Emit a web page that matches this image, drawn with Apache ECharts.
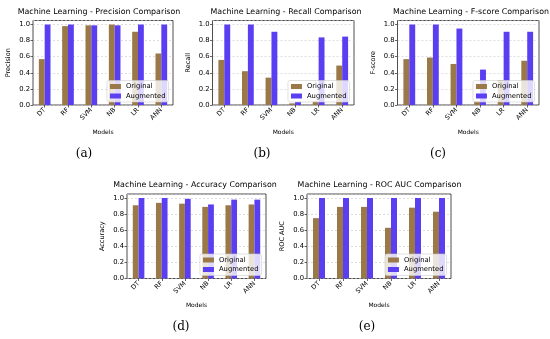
<!DOCTYPE html>
<html><head><meta charset="utf-8">
<script src="https://cdn.jsdelivr.net/npm/echarts@6/dist/echarts.min.js"></script>
<style>html,body{margin:0;padding:0;background:#fff}#c{width:550px;height:339px}</style>
</head><body><div id="c"></div>
<script>
const models = ['DT','RF','SVM','NB','LR','ANN'];
const seriesNames = ['Original','Augmented'];
const yTicks = ['0.0','0.2','0.4','0.6','0.8','1.0'];

const precisionOriginal = [0.57,0.98,0.99,1.00,0.91,0.64];
const precisionAugmented = [1.00,1.00,0.99,0.99,1.00,1.00];
const recallOriginal = [0.56,0.42,0.34,0.02,0.05,0.49];
const recallAugmented = [1.00,1.00,0.91,0.04,0.84,0.85];
const fscoreOriginal = [0.57,0.59,0.51,0.05,0.31,0.55];
const fscoreAugmented = [1.00,1.00,0.95,0.44,0.91,0.91];
const accuracyOriginal = [0.91,0.94,0.93,0.89,0.91,0.92];
const accuracyAugmented = [1.00,1.00,0.99,0.92,0.98,0.98];
const rocOriginal = [0.75,0.89,0.89,0.63,0.88,0.83];
const rocAugmented = [1.00,1.00,1.00,1.00,1.00,1.00];

const panelTitles = ['Machine Learning - Precision Comparison','Machine Learning - Recall Comparison','Machine Learning - F-score Comparison','Machine Learning - Accuracy Comparison','Machine Learning - ROC AUC Comparison'];
const yNames = ['Precision','Recall','F-score','Accuracy','ROC AUC'];
const panelLetters = ['(a)','(b)','(c)','(d)','(e)'];
const panelData = [[precisionOriginal,precisionAugmented],[recallOriginal,recallAugmented],[fscoreOriginal,fscoreAugmented],[accuracyOriginal,accuracyAugmented],[rocOriginal,rocAugmented]];

// layout (px)
const boxes = [
  {l:33, t:20.5, w:140, h:84.5, tc:99},
  {l:212.5, t:20.5, w:141.5, h:84.5, tc:286},
  {l:397.5, t:20.5, w:141.5, h:84.5, tc:471},
  {l:127, t:194, w:139, h:84.5, tc:195},
  {l:307, t:194, w:144, h:84.5, tc:379.5}
];
const colors = ['#9a7848','#5a3ef2'];
const FONT = 'DejaVu Sans';

const grid=[],xAxis=[],yAxis=[],series=[],title=[],legend=[];
boxes.forEach((b,i)=>{
  grid.push({left:b.l,top:b.t,width:b.w,height:b.h,show:true,borderColor:'#222',borderWidth:0.8,backgroundColor:'transparent'});
  xAxis.push({type:'category',gridIndex:i,data:models,
    axisLine:{show:false},axisTick:{show:true,alignWithLabel:true,length:2.5,lineStyle:{color:'#222',width:0.7}},
    axisLabel:{rotate:45,fontSize:6.5,fontFamily:FONT,color:'#000',margin:4},
    name:'Models',nameLocation:'middle',nameGap:24,nameTextStyle:{fontSize:6,fontFamily:FONT,color:'#000'}});
  yAxis.push({type:'value',gridIndex:i,min:0,max:1.05,interval:0.2,
    axisLine:{show:false},axisTick:{show:true,length:2.5,lineStyle:{color:'#222',width:0.7}},
    axisLabel:{fontSize:6.8,fontFamily:FONT,color:'#000',margin:3,showMaxLabel:false,
      formatter:v=>{const k=Math.round(v/0.2);return Math.abs(v-k*0.2)<1e-6?yTicks[k]:'';}},
    splitLine:{show:true,lineStyle:{type:[2,2],color:'#c8c8c8',width:0.6}},
    name:yNames[i],nameLocation:'middle',nameGap:21,nameTextStyle:{fontSize:6.5,fontFamily:FONT,color:'#000'}});
  seriesNames.forEach((n,j)=>{
    series.push({type:'bar',name:n,xAxisIndex:i,yAxisIndex:i,data:panelData[i][j],
      itemStyle:{color:colors[j]},barGap:'0%',barCategoryGap:'50%'});
  });
  title.push({text:panelTitles[i],left:b.tc,top:b.t-13,textAlign:'center',padding:0,
    textStyle:{fontSize:7.9,fontWeight:'normal',fontFamily:FONT,color:'#000'}});
  legend.push({data:seriesNames,orient:'vertical',right:550-(b.l+b.w)+4.5,top:b.t+b.h-24.5,
    itemWidth:11,itemHeight:5,itemGap:2.5,padding:[2.5,3,2.5,3],
    backgroundColor:'rgba(255,255,255,0.8)',borderColor:'#ccc',borderWidth:0.6,borderRadius:2,
    textStyle:{fontSize:6.8,fontFamily:FONT,color:'#000'},icon:'rect'});
});
const letterPos = [[84,155],[262,155],[438,155],[181,328],[367,328]];
letterPos.forEach((p,i)=>{
  title.push({text:panelLetters[i],left:p[0],top:p[1]-7,textAlign:'center',padding:0,
    textStyle:{fontSize:12,fontWeight:'normal',fontFamily:'DejaVu Serif',color:'#000'}});
});

const chart = echarts.init(document.getElementById('c'),null,{renderer:'canvas'});
chart.setOption({animation:false,backgroundColor:'#fff',title,legend,grid,xAxis,yAxis,series});
</script></body></html>
